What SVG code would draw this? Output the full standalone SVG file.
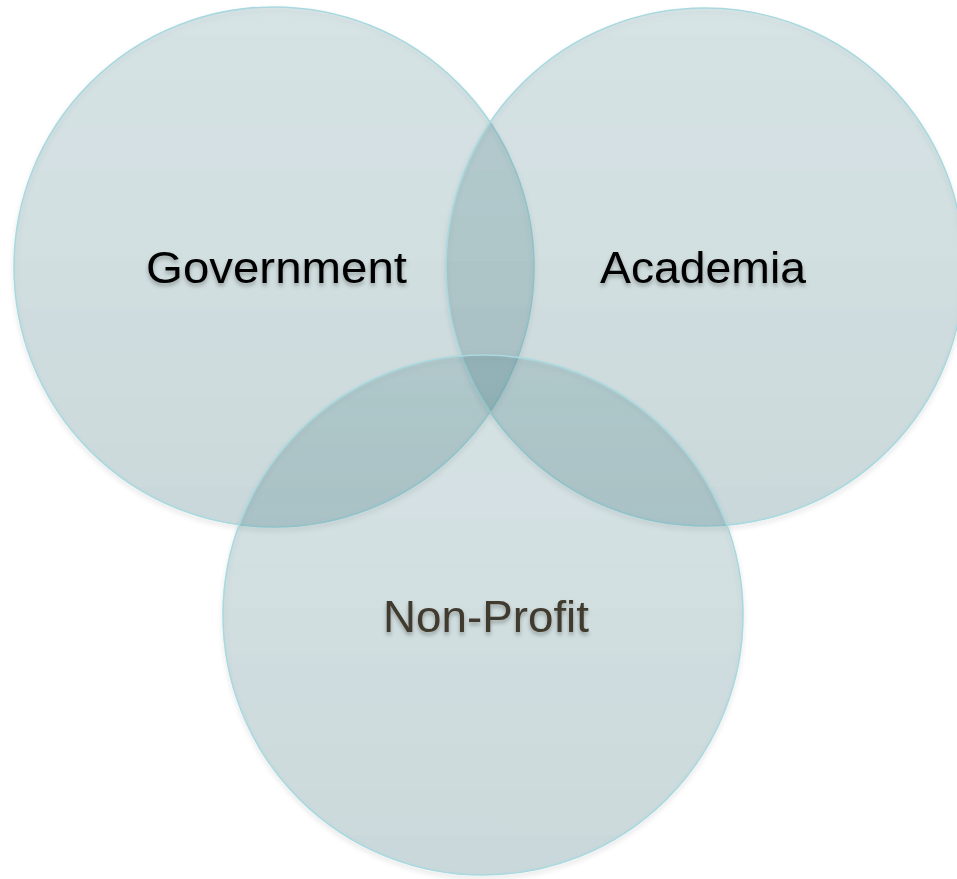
<svg xmlns="http://www.w3.org/2000/svg" width="957" height="879" viewBox="0 0 957 879">
<defs>
<linearGradient id="fillg" x1="0" y1="0" x2="0" y2="1">
<stop offset="0" stop-color="#3f7c84" stop-opacity="0.18"/>
<stop offset="1" stop-color="#2f6c76" stop-opacity="0.225"/>
</linearGradient>
<filter id="sh" x="-10%" y="-10%" width="120%" height="125%">
<feDropShadow dx="0" dy="3" stdDeviation="2.5" flood-color="#000" flood-opacity="0.16"/>
</filter>
<filter id="tsh" x="-10%" y="-30%" width="120%" height="170%">
<feDropShadow dx="0" dy="3" stdDeviation="2" flood-color="#000" flood-opacity="0.3"/>
</filter>
</defs>
<style>
.c{fill:url(#fillg);stroke:#a9d9df;stroke-width:1.6;filter:url(#sh)}
.t{font-family:"Liberation Sans",Arial,sans-serif;font-size:45px;text-anchor:middle;filter:url(#tsh)}
</style>
<rect width="957" height="879" fill="#ffffff"/>
<g id="government"><circle class="c" cx="274" cy="267" r="260"/></g>
<g id="academia"><circle class="c" cx="705" cy="267" r="259"/></g>
<g id="nonprofit"><circle class="c" cx="483" cy="615" r="260"/></g>
<g id="labels">
<text class="t" x="276.5" y="283" fill="#000000" textLength="261" lengthAdjust="spacingAndGlyphs">Government</text>
<text class="t" x="703" y="283" fill="#000000" textLength="206" lengthAdjust="spacingAndGlyphs">Academia</text>
<text class="t" x="486" y="632" fill="#3f3b2e" textLength="206" lengthAdjust="spacingAndGlyphs">Non-Profit</text>
</g>
<g id="connectors"/>
</svg>
